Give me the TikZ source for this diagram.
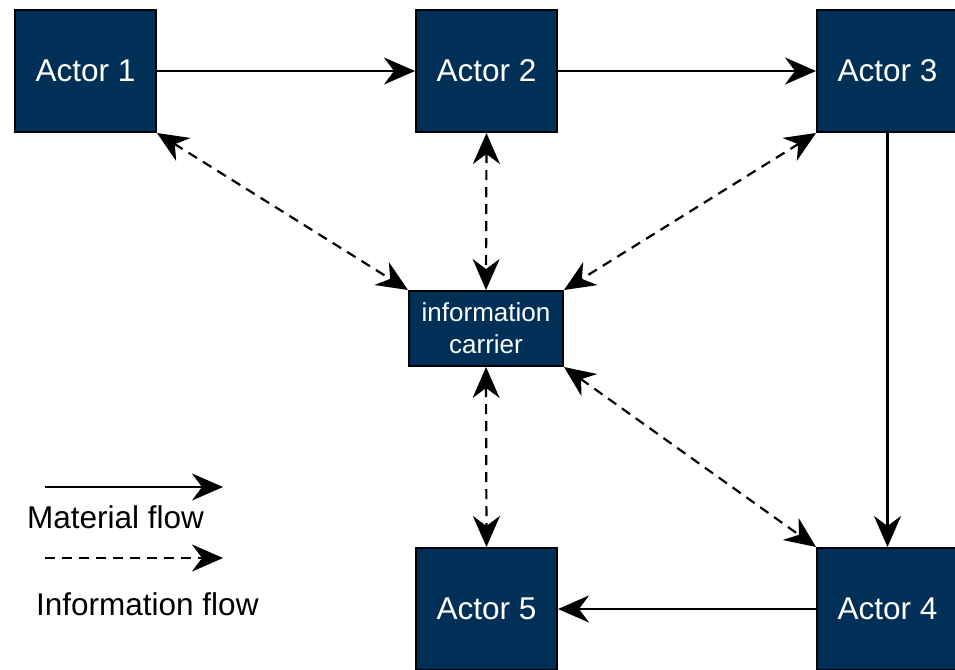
\documentclass[tikz,border=0pt]{standalone}
\usepackage{fontspec}
\setmainfont{Liberation Sans}
\usetikzlibrary{arrows.meta}
\definecolor{navy}{RGB}{0,48,87}
\tikzset{
  actor/.style={draw=black, line width=2pt, fill=navy, text=white,
    minimum width=141pt, minimum height=122pt, inner sep=0pt,
    font=\fontsize{31.5}{37}\selectfont},
  carrier/.style={draw=black, line width=2pt, fill=navy, text=white,
    minimum width=154pt, minimum height=75pt, inner sep=0pt, align=center,
    font=\fontsize{26}{32}\selectfont},
  head/.tip={Stealth[length=31pt,width=27pt,inset=10pt]},
  material/.style={-head, line width=2.2pt},
  info/.style={head-head, line width=2.2pt, dash pattern=on 10pt off 7pt},
  legendtext/.style={anchor=west, inner sep=0pt, font=\fontsize{31.5}{37}\selectfont}
}
\begin{document}
\begin{tikzpicture}[x=1pt, y=-1pt]
\useasboundingbox (0,0) rectangle (955,669);
\clip (0,0) rectangle (955,669);
\fill[white] (0,0) rectangle (955,669);

% actors and the shared information carrier
\node[actor] (a1) at (85.5,71) {Actor 1};
\node[actor] (a2) at (486.5,71) {Actor 2};
\node[actor] (a3) at (887.5,71) {Actor 3};
\node[actor] (a4) at (887.5,609) {Actor 4};
\node[actor] (a5) at (486.5,609) {Actor 5};
\node[carrier] (ic) at (486,328.5) {information\\carrier};

% material flow
\draw[material] (a1) -- (a2);
\draw[material] (a2) -- (a3);
\draw[material] (a3) -- (a4);
\draw[material] (a4) -- (a5);

% information flow
\draw[info] (a1.south east) -- (ic.north west);
\draw[info] (a2.south) -- (ic.north);
\draw[info] (a3.south west) -- (ic.north east);
\draw[info] (ic.south) -- (a5.north);
\draw[info] (ic.south east) -- (a4.north west);

% legend
\coordinate (m0) at (45,487);
\coordinate (m1) at (223,487);
\coordinate (i0) at (45,558);
\coordinate (i1) at (223,558);
\draw[material] (m0) -- (m1);
\draw[-head, line width=2.2pt, dash pattern=on 10pt off 7pt] (i0) -- (i1);
\node[legendtext] (lm) at (27,517) {Material flow};
\node[legendtext] (li) at (36,604) {Information flow};
\end{tikzpicture}
\end{document}
